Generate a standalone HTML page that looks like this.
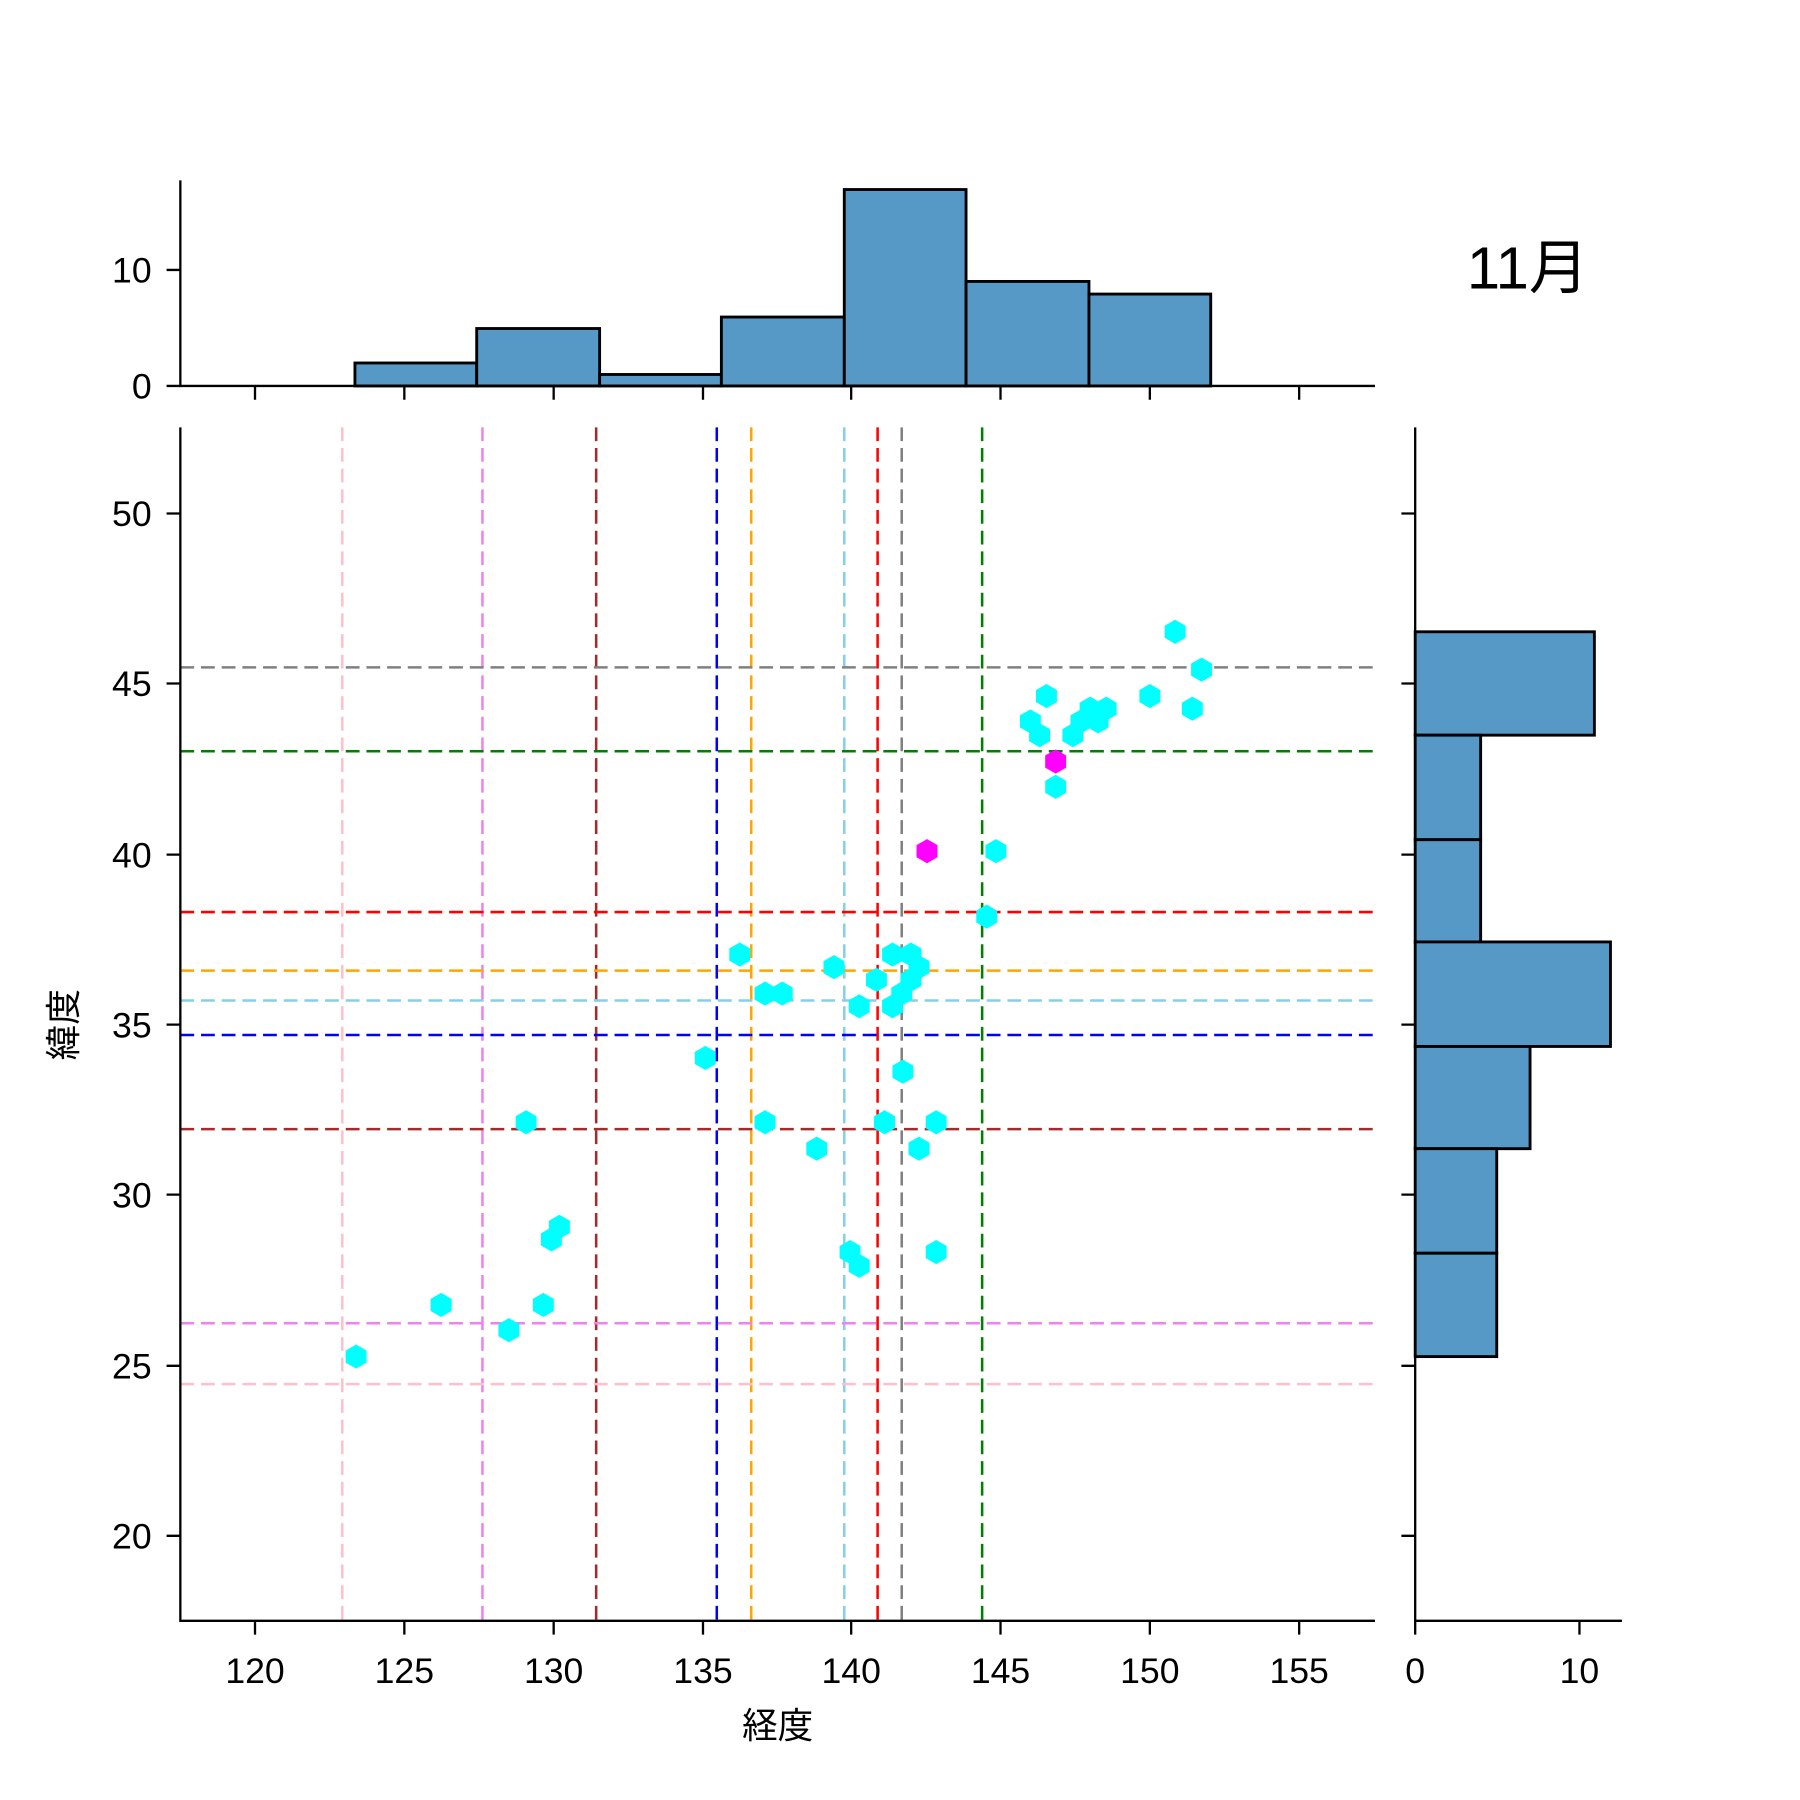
<!DOCTYPE html>
<html><head><meta charset="utf-8"><style>html,body{margin:0;padding:0;background:#fff}svg{display:block}</style></head>
<body>
<svg xmlns="http://www.w3.org/2000/svg" width="1800" height="1800" viewBox="0 0 1567 1567" font-family="Liberation Sans, Noto Sans CJK JP, sans-serif">
<defs>
<polygon id="h" points="0,-10.5 9.1,-5.25 9.1,5.25 0,10.5 -9.1,5.25 -9.1,-5.25"/>
</defs>
<rect width="1567" height="1567" fill="#fff"/>
<g fill="#5799c6" stroke="#000" stroke-width="2.5">
<rect x="309" y="316" width="106" height="20"/>
<rect x="415" y="286" width="107" height="50"/>
<rect x="522" y="326" width="106" height="10"/>
<rect x="628" y="276" width="107" height="60"/>
<rect x="735" y="165" width="106" height="171"/>
<rect x="841" y="245" width="107" height="91"/>
<rect x="948" y="256" width="106" height="80"/>
</g>
<g fill="#5799c6" stroke="#000" stroke-width="2.5">
<rect x="1232" y="550" width="156" height="90"/>
<rect x="1232" y="640" width="57" height="91"/>
<rect x="1232" y="731" width="57" height="89"/>
<rect x="1232" y="820" width="170" height="91"/>
<rect x="1232" y="911" width="100" height="89"/>
<rect x="1232" y="1000" width="71" height="91"/>
<rect x="1232" y="1091" width="71" height="90"/>
</g>
<g stroke-width="2.2" stroke-dasharray="12,6" fill="none">
<line x1="298" y1="372" x2="298" y2="1411" stroke="pink"/>
<line x1="420" y1="372" x2="420" y2="1411" stroke="violet"/>
<line x1="519" y1="372" x2="519" y2="1411" stroke="brown"/>
<line x1="624" y1="372" x2="624" y2="1411" stroke="blue"/>
<line x1="654" y1="372" x2="654" y2="1411" stroke="orange"/>
<line x1="735" y1="372" x2="735" y2="1411" stroke="skyblue"/>
<line x1="764" y1="372" x2="764" y2="1411" stroke="red"/>
<line x1="785" y1="372" x2="785" y2="1411" stroke="gray"/>
<line x1="855" y1="372" x2="855" y2="1411" stroke="green"/>
<line x1="157" y1="581" x2="1197" y2="581" stroke="gray"/>
<line x1="157" y1="654" x2="1197" y2="654" stroke="green"/>
<line x1="157" y1="794" x2="1197" y2="794" stroke="red"/>
<line x1="157" y1="845" x2="1197" y2="845" stroke="orange"/>
<line x1="157" y1="871" x2="1197" y2="871" stroke="skyblue"/>
<line x1="157" y1="901" x2="1197" y2="901" stroke="blue"/>
<line x1="157" y1="983" x2="1197" y2="983" stroke="brown"/>
<line x1="157" y1="1152" x2="1197" y2="1152" stroke="violet"/>
<line x1="157" y1="1205" x2="1197" y2="1205" stroke="pink"/>
</g>
<g fill="#00ffff">
<use href="#h" x="1023" y="550"/><use href="#h" x="1046" y="583"/><use href="#h" x="911" y="606"/><use href="#h" x="1001" y="606"/><use href="#h" x="1038" y="617"/><use href="#h" x="897" y="628"/><use href="#h" x="905" y="640"/><use href="#h" x="934" y="640"/><use href="#h" x="941" y="628"/><use href="#h" x="949" y="617"/><use href="#h" x="956" y="628"/><use href="#h" x="963" y="617"/><use href="#h" x="919" y="685"/><use href="#h" x="867" y="741"/><use href="#h" x="859" y="798"/><use href="#h" x="644" y="831"/><use href="#h" x="726" y="842"/><use href="#h" x="777" y="831"/><use href="#h" x="793" y="831"/><use href="#h" x="800" y="842"/><use href="#h" x="763" y="853"/><use href="#h" x="793" y="853"/><use href="#h" x="785" y="865"/><use href="#h" x="666" y="865"/><use href="#h" x="681" y="865"/><use href="#h" x="748" y="876"/><use href="#h" x="777" y="876"/><use href="#h" x="614" y="921"/><use href="#h" x="786" y="933"/><use href="#h" x="458" y="977"/><use href="#h" x="666" y="977"/><use href="#h" x="770" y="977"/><use href="#h" x="815" y="977"/><use href="#h" x="711" y="1000"/><use href="#h" x="800" y="1000"/><use href="#h" x="487" y="1068"/><use href="#h" x="480" y="1079"/><use href="#h" x="740" y="1090"/><use href="#h" x="748" y="1102"/><use href="#h" x="815" y="1090"/><use href="#h" x="384" y="1136"/><use href="#h" x="473" y="1136"/><use href="#h" x="443" y="1158"/><use href="#h" x="310" y="1181"/>
</g>
<g fill="#ff00ff"><use href="#h" x="919" y="663"/><use href="#h" x="807" y="741"/></g>
<g stroke="#000" stroke-width="2" fill="none">
<path d="M157,372 V1411 H1197"/>
<path d="M157,157 V336 H1197"/>
<path d="M1232,372 V1411 H1412"/>
</g>
<g stroke="#000" stroke-width="2">
<path d="M222,1411v12M352,1411v12M482,1411v12M612,1411v12M741,1411v12M871,1411v12M1001,1411v12M1131,1411v12"/>
<path d="M222,336v12M352,336v12M482,336v12M612,336v12M741,336v12M871,336v12M1001,336v12M1131,336v12"/>
<path d="M157,447h-12M157,595h-12M157,744h-12M157,892h-12M157,1040h-12M157,1189h-12M157,1337h-12"/>
<path d="M1232,447h-12M1232,595h-12M1232,744h-12M1232,892h-12M1232,1040h-12M1232,1189h-12M1232,1337h-12"/>
<path d="M157,336h-12M157,235h-12"/>
<path d="M1232,1411v12M1375,1411v12"/>
</g>
<g font-size="31" fill="#000" text-anchor="middle">
<text x="222" y="1465">120</text><text x="352" y="1465">125</text><text x="482" y="1465">130</text><text x="612" y="1465">135</text><text x="741" y="1465">140</text><text x="871" y="1465">145</text><text x="1001" y="1465">150</text><text x="1131" y="1465">155</text>
<text x="1232" y="1465">0</text><text x="1375" y="1465">10</text>
</g>
<g font-size="31" fill="#000" text-anchor="end">
<text x="132" y="458">50</text><text x="132" y="606">45</text><text x="132" y="755">40</text><text x="132" y="903">35</text><text x="132" y="1051">30</text><text x="132" y="1200">25</text><text x="132" y="1348">20</text>
<text x="132" y="347">0</text><text x="132" y="246">10</text>
</g>
<text x="677" y="1513" font-size="31" text-anchor="middle">経度</text>
<text transform="translate(66,892) rotate(-90)" font-size="31" text-anchor="middle">緯度</text>
<text x="1330" y="251" font-size="52" text-anchor="middle">11月</text>
</svg>
</body></html>
